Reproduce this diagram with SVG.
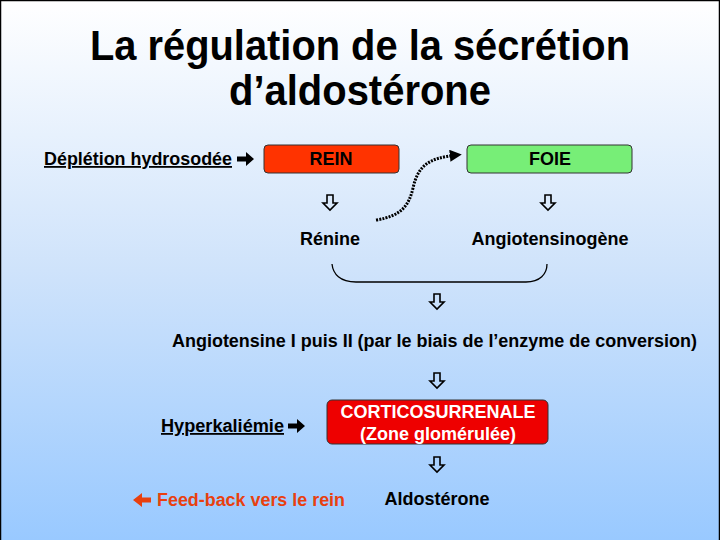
<svg xmlns="http://www.w3.org/2000/svg" width="720" height="540" viewBox="0 0 720 540">
<defs>
<linearGradient id="bg" x1="0" y1="0" x2="0" y2="1">
<stop offset="0" stop-color="#ffffff"/>
<stop offset="0.5" stop-color="#cfe3fb"/>
<stop offset="1" stop-color="#99c9ff"/>
</linearGradient>
<path id="down" d="M-3,-8 H3 V0 H7 L0,7 L-7,0 H-3 Z" fill="none" stroke="#000" stroke-width="1.6" stroke-linejoin="miter"/>
<path id="right" d="M-8,-2.5 H1 V-7 L9,0 L1,7 V2.5 H-8 Z" fill="#000"/>
<path id="left" d="M9,-2.5 H0 V-7 L-9,0 L0,7 V2.5 H9 Z" fill="#e8400f"/>
<marker id="ah" viewBox="0 0 10 10" refX="6" refY="5" markerWidth="4" markerHeight="4" orient="auto" markerUnits="strokeWidth">
<path d="M0,0 L10,5 L0,10 Z" fill="#000"/>
</marker>
</defs>
<style>
.t{font-family:"Liberation Sans",Arial,sans-serif;font-weight:bold;font-size:18px;fill:#000}
.h{font-size:42px}
.c{text-anchor:middle}
.u{text-decoration:underline}
.box{stroke:#333;stroke-width:1}
</style>
<rect x="0" y="0" width="720" height="540" fill="url(#bg)"/>
<path d="M0.5,540 V0.5 H719.5 V540" fill="none" stroke="#000" stroke-width="1.5"/>
<g id="title">
<text class="t h c" x="360" y="60" textLength="540" lengthAdjust="spacingAndGlyphs">La régulation de la sécrétion</text>
<text class="t h c" x="360" y="105" textLength="262" lengthAdjust="spacingAndGlyphs">d’aldostérone</text>
</g>
<g id="depletion">
<text class="t u" x="44" y="165" textLength="188" lengthAdjust="spacingAndGlyphs">Déplétion hydrosodée</text>
<use href="#right" x="245" y="159"/>
</g>
<g id="rein">
<rect class="box" x="264" y="145" width="135" height="28" rx="4" fill="#ff3300"/>
<text class="t c" x="331" y="165">REIN</text>
</g>
<g id="foie">
<rect class="box" x="467" y="145" width="165" height="28" rx="4" fill="#77ee77"/>
<text class="t c" x="550" y="165">FOIE</text>
</g>
<g id="renine">
<text class="t c" x="330" y="245">Rénine</text>
</g>
<g id="angiotensinogene">
<text class="t c" x="550" y="245">Angiotensinogène</text>
</g>
<g id="angiotensine">
<text class="t" x="172" y="347" textLength="525" lengthAdjust="spacingAndGlyphs">Angiotensine I puis II (par le biais de l’enzyme de conversion)</text>
</g>
<g id="hyperkaliemie">
<text class="t u" x="161" y="432" textLength="123" lengthAdjust="spacingAndGlyphs">Hyperkaliémie</text>
<use href="#right" x="296" y="426"/>
</g>
<g id="corticosurrenale">
<rect class="box" x="327" y="400" width="221" height="44" rx="5" fill="#ee0000"/>
<text class="t c" x="438" y="418" style="fill:#fff">CORTICOSURRENALE</text>
<text class="t c" x="438" y="440" style="fill:#fff">(Zone glomérulée)</text>
</g>
<g id="aldosterone">
<text class="t c" x="437" y="505">Aldostérone</text>
</g>
<g id="feedback">
<use href="#left" x="142" y="500"/>
<text class="t" x="157" y="506" style="fill:#e8400f" textLength="188" lengthAdjust="spacingAndGlyphs">Feed-back vers le rein</text>
</g>
<g id="connectors">
<use href="#down" x="330" y="203"/>
<use href="#down" x="548" y="203"/>
<use href="#down" x="437" y="302"/>
<use href="#down" x="437" y="381"/>
<use href="#down" x="437" y="465"/>
<path d="M376,220 C402,216 409,205 413,188 C418,166 428,158 457,155" fill="none" stroke="#000" stroke-width="3" stroke-dasharray="2 1.2" marker-end="url(#ah)"/>
<path d="M332,264 C333,274 340,282 356,282 H526 C540,282 547,274 547,264" fill="none" stroke="#000" stroke-width="1.3"/>
</g>
</svg>
